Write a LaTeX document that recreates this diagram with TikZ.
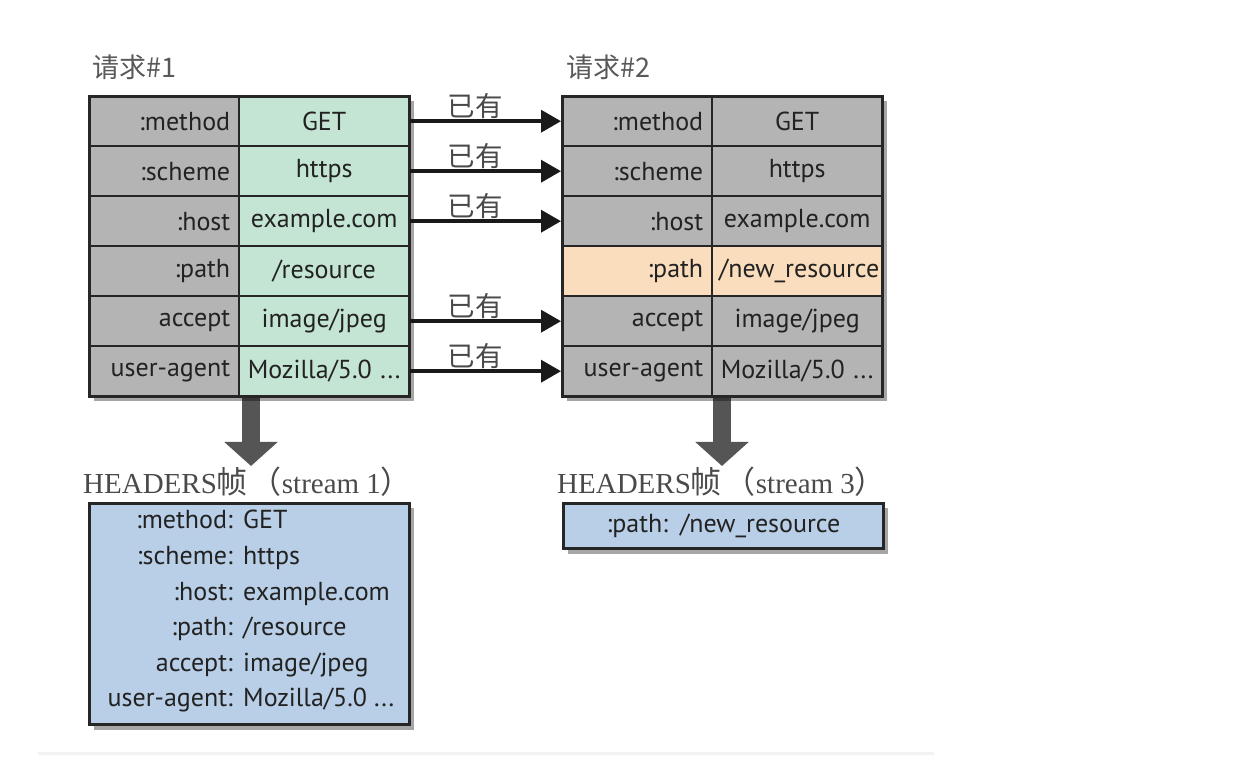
\documentclass[tikz,border=0pt]{standalone}
\usepackage{fontspec}
\setmainfont{Liberation Serif}
\setsansfont{PT Sans}
\newfontfamily\cjk{Noto Sans CJK SC}
\usetikzlibrary{arrows.meta,shadows,calc}
\definecolor{edge}{HTML}{262626}
\definecolor{cellgray}{HTML}{B4B4B4}
\definecolor{cellgreen}{HTML}{C4E4D4}
\definecolor{cellorange}{HTML}{FADDBD}
\definecolor{cellblue}{HTML}{B9CFE7}
\definecolor{txt}{HTML}{222222}
\definecolor{lbltxt}{HTML}{4A4A4A}
\definecolor{arrowgray}{HTML}{555555}
\newcommand\hrow[6]{%
  \node[keycell] (#1k) at (#2,#3) {#4};
  \node[#6] (#1v) at (#2+150,#3) {#5};}
\newcommand\hcjk[1]{{\cjk\fontsize{31}{32}\selectfont #1}}
\begin{document}
\begin{tikzpicture}[x=1pt,y=-1pt,
  cellbase/.style={draw=edge, line width=2.4pt, minimum height=50pt, anchor=north west,
    text=txt, font=\sffamily\fontsize{26}{28}\selectfont, inner ysep=0pt},
  keycell/.style={cellbase, fill=cellgray, text width=132pt, inner xsep=9pt, align=right},
  valcell/.style={cellbase, fill=cellgreen, text width=162pt, inner xsep=4pt, align=center},
  valgray/.style={valcell, fill=cellgray},
  valorange/.style={valcell, fill=cellorange},
  shadowed/.style={drop shadow={shadow xshift=4pt, shadow yshift=-5pt, opacity=0.35, fill=black}},
  frame/.style={draw=edge, line width=3pt, minimum width=320pt, minimum height=300pt,
    anchor=north west},
  bluebox/.style={draw=edge, line width=3pt, fill=cellblue, anchor=north west,
    minimum width=320pt, shadowed},
  bluetxt/.style={text=txt, font=\sffamily\fontsize{26}{28}\selectfont, inner sep=0pt},
  conn/.style={draw=black!90, line width=3.5pt, -{Triangle[length=20pt,width=22pt]}},
  lbl/.style={text=lbltxt, font=\cjk\fontsize{27.5}{29}\selectfont, inner sep=1pt},
  title/.style={text=black!65, font=\cjk\fontsize{27}{29}\selectfont, anchor=west, inner sep=0pt},
  hdr/.style={text=lbltxt, font=\fontsize{29}{31}\selectfont, anchor=west, inner sep=0pt},
  bigarrow/.style={draw=arrowgray, line width=18pt, -{Triangle[length=24pt,width=52pt]}},
  faint/.style={draw=black!5, line width=3pt}]
\fill[white] (0,0) rectangle (1235,775);
\useasboundingbox (0,0) rectangle (1235,775);

% titles
\node[title] (t1) at (92,67) {请求\#1};
\node[title] (t2) at (566,67) {请求\#2};

% big down arrows (behind tables)
\coordinate (d1s) at (251,380);
\coordinate (d1e) at (251,466);
\coordinate (d2s) at (722,380);
\coordinate (d2e) at (722,466);
\draw[bigarrow] (d1s) -- (d1e);
\draw[bigarrow] (d2s) -- (d2e);

% left table
\node[frame, fill=cellgray, shadowed] (T1) at (88,95) {};
\hrow{L1}{88}{95}{:method}{GET}{valcell}
\hrow{L2}{88}{145}{:scheme}{https}{valcell}
\hrow{L3}{88}{195}{:host}{example.com}{valcell}
\hrow{L4}{88}{245}{:path}{/resource}{valcell}
\hrow{L5}{88}{295}{accept}{image/jpeg}{valcell}
\hrow{L6}{88}{345}{user-agent}{Mozilla/5.0 ...}{valcell}
\node[frame] (T1b) at (88,95) {};

% right table
\node[frame, fill=cellgray, shadowed] (T2) at (561,95) {};
\hrow{R1}{561}{95}{:method}{GET}{valgray}
\hrow{R2}{561}{145}{:scheme}{https}{valgray}
\hrow{R3}{561}{195}{:host}{example.com}{valgray}
\node[keycell, fill=cellorange] (R4k) at (561,245) {:path};
\node[valorange, inner xsep=0pt, text width=170pt] (R4v) at (711,245) {\hspace*{4pt}/new\_resource};
\hrow{R5}{561}{295}{accept}{image/jpeg}{valgray}
\hrow{R6}{561}{345}{user-agent}{Mozilla/5.0 ...}{valgray}
\node[frame] (T2b) at (561,95) {};

% "already present" arrows
\draw[conn] (L1v.east) -- (R1k.west) node[lbl, pos=0.43, above] (a1) {已有};
\draw[conn] (L2v.east) -- (R2k.west) node[lbl, pos=0.43, above] (a2) {已有};
\draw[conn] (L3v.east) -- (R3k.west) node[lbl, pos=0.43, above] (a3) {已有};
\draw[conn] (L5v.east) -- (R5k.west) node[lbl, pos=0.43, above] (a5) {已有};
\draw[conn] (L6v.east) -- (R6k.west) node[lbl, pos=0.43, above] (a6) {已有};

% headers labels
\node[hdr] (H1) at (83,482) {HEADERS\hcjk{帧}\hspace{3pt}\hcjk{（}stream 1\hcjk{）}};
\node[hdr] (H2) at (557,482) {HEADERS\hcjk{帧}\hspace{3pt}\hcjk{（}stream 3\hcjk{）}};

% headers frame 1
\node[bluebox, minimum height=221pt] (B1) at (88,502) {};
\foreach \k/\v [count=\i] in {{:method:}/{GET}, {:scheme:}/{https}, {:host:}/{example.com},
    {:path:}/{/resource}, {accept:}/{image/jpeg}, {user-agent:}/{Mozilla/5.0 ...}} {
  \node[bluetxt, anchor=base east] (b\i k) at (233, 529+35.5*\i-35.5) {\k};
  \node[bluetxt, anchor=base west] (b\i v) at (243, 529+35.5*\i-35.5) {\v};
}

% headers frame 3
\node[bluebox, minimum height=45pt, text=txt, font=\sffamily\fontsize{26}{28}\selectfont]
  (B2) at (562,502) {:path:\hspace{12pt}/new\_resource};

% faint bottom line
\draw[faint] (38,753) -- (934,753);
\end{tikzpicture}
\end{document}
